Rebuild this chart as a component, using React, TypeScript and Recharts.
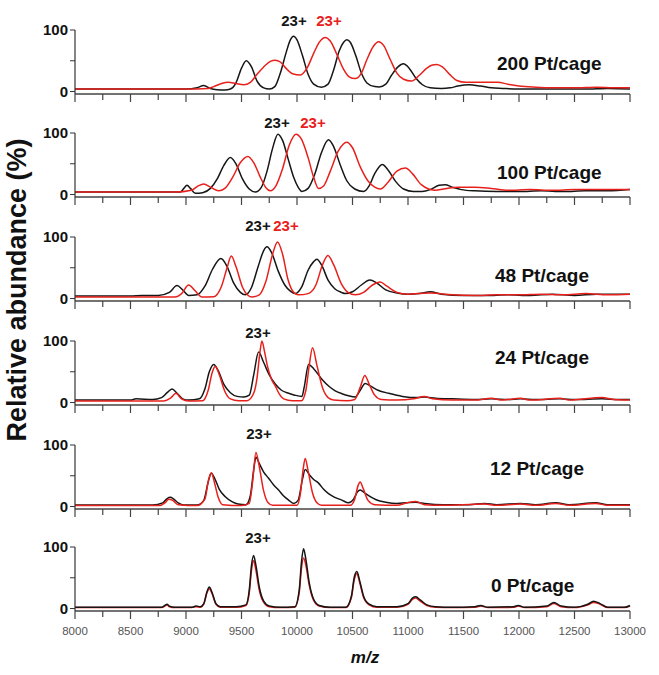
import React from 'react';
import { LineChart, Line, XAxis, YAxis } from 'recharts';

type Pt = [number, number];

// m/z axis ticks (minor every 250, labelled every 500)
const mzTicks = [8000, 8250, 8500, 8750, 9000, 9250, 9500, 9750, 10000, 10250, 10500, 10750, 11000, 11250, 11500, 11750, 12000, 12250, 12500, 12750, 13000];
const yTicks = [0, 50, 100];
const panelLabels = ['200 Pt/cage', '100 Pt/cage', '48 Pt/cage', '24 Pt/cage', '12 Pt/cage', '0 Pt/cage'];

// spectra: [m/z, relative abundance]
const black200: Pt[] = [[8000, 4], [8500, 4], [9000, 4], [9100, 6], [9160, 10], [9220, 5], [9280, 3], [9350, 2.5], [9400, 4], [9450, 14], [9500, 38], [9543, 50], [9590, 40], [9640, 17], [9700, 6], [9750, 4], [9800, 8], [9850, 30], [9900, 62], [9940, 84], [9969, 90], [10000, 84], [10050, 58], [10100, 28], [10150, 12], [10220, 7], [10280, 12], [10330, 35], [10380, 66], [10420, 80], [10449, 84], [10480, 80], [10530, 58], [10580, 30], [10630, 14], [10700, 8], [10740, 7.5], [10800, 12], [10850, 26], [10910, 40], [10958, 45], [11010, 38], [11070, 22], [11130, 11], [11200, 6], [11300, 5], [11380, 6], [11450, 9], [11550, 11], [11650, 9], [11750, 6], [11850, 5], [12000, 4], [12300, 4], [12600, 4], [12800, 5], [13000, 4]];
const red200: Pt[] = [[8000, 4], [8500, 4], [9000, 4], [9200, 5], [9250, 8], [9320, 13], [9380, 15], [9450, 13], [9520, 11], [9580, 15], [9640, 28], [9700, 40], [9760, 49], [9804, 51], [9850, 48], [9900, 38], [9960, 29], [10030, 27], [10090, 38], [10150, 62], [10200, 80], [10254, 88], [10300, 82], [10360, 60], [10420, 36], [10470, 24], [10524, 21], [10580, 30], [10630, 52], [10690, 74], [10734, 81], [10780, 75], [10840, 52], [10900, 30], [10960, 20], [11033, 17], [11100, 26], [11170, 38], [11220, 43], [11259, 44], [11310, 40], [11380, 27], [11440, 18], [11520, 15], [11600, 15], [11700, 15], [11806, 15], [11900, 12], [12000, 9], [12150, 7], [12300, 6], [12500, 6], [12700, 7], [12850, 6], [13000, 6]];

const black100: Pt[] = [[8000, 4], [8500, 4], [8950, 4], [8980, 10], [9009, 15], [9040, 10], [9084, 2], [9150, 3], [9220, 10], [9280, 25], [9340, 47], [9399, 60], [9450, 50], [9510, 25], [9570, 9], [9624, 4], [9680, 12], [9730, 38], [9780, 75], [9828, 98], [9870, 88], [9920, 58], [9970, 28], [10010, 12], [10044, 5], [10100, 10], [10160, 33], [10220, 68], [10284, 89], [10330, 78], [10390, 48], [10450, 22], [10520, 9], [10600, 5], [10650, 14], [10700, 34], [10769, 49], [10820, 40], [10890, 21], [10960, 9], [11050, 5], [11127, 5], [11200, 8], [11280, 15], [11335, 16], [11400, 12], [11480, 8], [11600, 6], [11800, 5], [12000, 5], [12200, 6], [12400, 5], [12600, 6], [12800, 6], [13000, 8]];
const red100: Pt[] = [[8000, 4], [8900, 4], [9050, 7], [9110, 14], [9159, 17], [9220, 12], [9294, 6], [9350, 10], [9420, 28], [9490, 52], [9558, 62], [9610, 52], [9670, 28], [9720, 11], [9759, 6], [9810, 14], [9870, 42], [9930, 80], [9990, 98], [10040, 90], [10100, 60], [10150, 28], [10194, 10], [10240, 14], [10300, 38], [10370, 70], [10449, 85], [10500, 76], [10570, 45], [10640, 22], [10700, 12], [10750, 9], [10820, 20], [10900, 38], [10977, 43], [11040, 34], [11120, 16], [11240, 7], [11350, 10], [11450, 12], [11600, 12], [11750, 10], [11900, 7], [12100, 8], [12300, 7], [12500, 8], [12700, 8], [13000, 8]];

const black48: Pt[] = [[8000, 4], [8500, 4], [8600, 5], [8750, 5], [8850, 10], [8919, 21], [8970, 14], [9024, 5], [9100, 6], [9170, 20], [9240, 48], [9315, 65], [9370, 52], [9430, 25], [9490, 10], [9534, 6], [9590, 18], [9650, 52], [9700, 78], [9729, 84], [9770, 75], [9830, 45], [9890, 22], [9940, 12], [9984, 8], [10040, 18], [10100, 46], [10150, 60], [10179, 64], [10220, 55], [10280, 30], [10340, 16], [10400, 10], [10434, 8], [10500, 11], [10580, 22], [10656, 30], [10720, 25], [10800, 14], [10900, 9], [11000, 7], [11100, 8], [11203, 11], [11300, 7], [11500, 5], [11700, 5], [11900, 6], [12100, 5], [12300, 7], [12500, 5], [12700, 7], [12900, 7], [13000, 7]];
const red48: Pt[] = [[8000, 2.5], [8900, 2.5], [8960, 8], [9024, 22], [9080, 13], [9144, 2.5], [9250, 3], [9320, 20], [9370, 50], [9408, 69], [9450, 52], [9510, 18], [9560, 5], [9594, 2.5], [9660, 6], [9720, 28], [9780, 72], [9825, 92], [9870, 72], [9920, 30], [9970, 10], [10014, 6], [10100, 8], [10170, 22], [10230, 55], [10278, 70], [10330, 55], [10400, 24], [10460, 10], [10524, 6], [10600, 10], [10680, 22], [10750, 27], [10810, 20], [10900, 10], [11000, 7], [11100, 8], [11200, 9], [11400, 6], [11600, 5], [11800, 6], [12000, 6], [12200, 7], [12400, 6], [12600, 8], [12800, 6], [13000, 7]];

const black24: Pt[] = [[8000, 4], [8500, 4], [8550, 6], [8700, 5], [8780, 8], [8830, 16], [8874, 22], [8920, 15], [8970, 6], [9024, 4], [9120, 6], [9170, 22], [9210, 50], [9249, 62], [9290, 52], [9340, 30], [9400, 16], [9460, 10], [9520, 9], [9570, 12], [9610, 45], [9654, 82], [9700, 65], [9750, 45], [9804, 30], [9860, 20], [9924, 15], [9980, 12], [10044, 10], [10065, 25], [10104, 62], [10150, 55], [10224, 38], [10290, 26], [10344, 19], [10410, 14], [10464, 11], [10524, 9], [10570, 20], [10614, 31], [10660, 27], [10730, 20], [10826, 15], [10950, 10], [11090, 8], [11146, 9], [11250, 7], [11400, 6], [11600, 5], [11750, 6], [11900, 5], [12012, 6], [12150, 5], [12371, 6], [12500, 5], [12748, 6], [12900, 5], [13000, 5]];
const red24: Pt[] = [[8000, 2.5], [8800, 2.5], [8860, 7], [8910, 15], [8960, 6], [9024, 2.5], [9150, 3], [9200, 20], [9235, 48], [9264, 59], [9300, 45], [9350, 18], [9400, 6], [9474, 3], [9550, 3], [9610, 15], [9640, 40], [9665, 80], [9684, 100], [9705, 85], [9730, 62], [9770, 38], [9804, 27], [9840, 14], [9880, 6], [9960, 3], [10040, 3], [10080, 20], [10110, 60], [10140, 89], [10180, 60], [10230, 24], [10280, 8], [10330, 4], [10450, 3], [10520, 5], [10570, 25], [10611, 44], [10650, 30], [10700, 12], [10760, 5], [10900, 4], [11050, 6], [11146, 10], [11220, 6], [11400, 4], [11600, 4], [11750, 7], [11850, 4], [12012, 7], [12100, 4], [12371, 7], [12450, 4], [12748, 8], [12850, 5], [13000, 4]];

const black12: Pt[] = [[8000, 2.5], [8700, 2.5], [8790, 6], [8830, 13], [8859, 15], [8890, 12], [8930, 6], [8979, 2.5], [9100, 2.5], [9160, 10], [9200, 40], [9228, 54], [9260, 45], [9300, 28], [9354, 16], [9414, 8], [9470, 4], [9540, 3], [9580, 18], [9610, 60], [9630, 80], [9660, 70], [9700, 56], [9744, 46], [9790, 35], [9834, 27], [9880, 17], [9924, 10.5], [9970, 5], [10010, 10], [10050, 45], [10074, 60], [10110, 52], [10150, 44], [10194, 38], [10240, 28], [10284, 21], [10340, 15], [10404, 10.5], [10464, 6], [10510, 12], [10545, 24], [10569, 27], [10610, 22], [10660, 16], [10713, 11], [10800, 7], [10901, 5], [10980, 6], [11071, 7], [11150, 5], [11316, 3], [11429, 3], [11550, 3], [11690, 5], [11800, 3], [12013, 5], [12150, 3], [12333, 6], [12450, 3], [12691, 6], [12800, 3], [13000, 3]];
const red12: Pt[] = [[8000, 1.5], [8760, 1.5], [8810, 6], [8845, 12], [8880, 10], [8930, 3], [9100, 1.5], [9170, 12], [9205, 45], [9228, 55], [9255, 40], [9290, 15], [9330, 3], [9500, 1.5], [9570, 5], [9600, 40], [9630, 88], [9660, 65], [9700, 25], [9740, 6], [9780, 2], [10000, 2], [10030, 20], [10055, 60], [10074, 78], [10100, 58], [10140, 22], [10180, 6], [10220, 2], [10480, 2], [10520, 12], [10550, 34], [10569, 40], [10595, 30], [10640, 10], [10700, 3], [10900, 2], [10990, 6], [11071, 8], [11150, 3], [11300, 2], [11690, 4], [11800, 2], [12013, 4], [12150, 2], [12333, 5], [12450, 2], [12691, 5], [12800, 2], [13000, 2]];

const black0: Pt[] = [[8000, 2], [8780, 2], [8810, 5], [8829, 7], [8850, 4], [8900, 2], [9050, 2], [9090, 4], [9130, 3], [9160, 8], [9190, 28], [9210, 35], [9235, 26], [9270, 8], [9310, 3], [9450, 3], [9540, 6], [9570, 30], [9590, 70], [9609, 86], [9630, 70], [9660, 35], [9700, 12], [9750, 4], [9850, 2], [9980, 3], [10020, 30], [10040, 75], [10059, 97], [10080, 80], [10110, 42], [10150, 15], [10200, 5], [10300, 2], [10440, 2], [10490, 20], [10515, 50], [10539, 60], [10565, 45], [10600, 20], [10650, 7], [10720, 3], [10900, 3], [11000, 8], [11040, 17], [11071, 19], [11110, 14], [11170, 6], [11250, 3], [11400, 2], [11600, 3], [11655, 5], [11720, 2], [11950, 3], [11994, 5], [12050, 2], [12250, 4], [12314, 10], [12380, 4], [12500, 2], [12620, 7], [12672, 12], [12730, 8], [12800, 2], [12950, 2], [13000, 5]];
const red0: Pt[] = [[8000, 1.5], [8780, 1.5], [8810, 4], [8829, 6], [8850, 3], [8900, 1.5], [9050, 1.5], [9090, 3], [9130, 2], [9160, 7], [9190, 26], [9210, 32], [9235, 24], [9270, 7], [9310, 2], [9450, 2], [9540, 5], [9570, 26], [9590, 62], [9609, 78], [9630, 62], [9660, 30], [9700, 10], [9750, 3], [9850, 1.5], [9980, 2], [10020, 26], [10040, 65], [10059, 82], [10080, 70], [10110, 38], [10150, 13], [10200, 4], [10300, 1.5], [10440, 1.5], [10490, 18], [10515, 46], [10539, 57], [10565, 42], [10600, 18], [10650, 6], [10720, 2], [10900, 2], [11000, 7], [11040, 15], [11071, 17], [11110, 12], [11170, 5], [11250, 2], [11400, 1.5], [11600, 2], [11655, 4], [11720, 1.5], [11950, 2], [11994, 4], [12050, 1.5], [12250, 3], [12314, 8], [12380, 3], [12500, 1.5], [12620, 6], [12672, 10], [12730, 7], [12800, 1.5], [12950, 1.5], [13000, 4]];

const blackSpectra = [black200, black100, black48, black24, black12, black0];
const redSpectra = [red200, red100, red48, red24, red12, red0];

const BLACK = '#161616';
const RED = '#e8201c';
const FONT = '"Liberation Sans", Arial, Helvetica, sans-serif';

// layout (px)
const AXIS_Y = [94, 197, 301, 405, 509, 611];
const PLOT_H = 64;
const PAD_TOP = 14;
const LABEL_POS = [[497, 63], [497, 172], [495, 275], [495, 357], [490, 468], [491, 585]];
// [x, y, colour] for the "23+" charge-state tags
const CHARGE_TAGS: [number, number, string][][] = [
    [[294, 20, BLACK], [329, 20, RED]],
    [[277, 122, BLACK], [313, 122, RED]],
    [[258, 225, BLACK], [286, 225, RED]],
    [[258, 332, BLACK]],
    [[259, 433, BLACK]],
    [[258, 537, BLACK]],
];

const toPts = (arr: Pt[]) => arr.map(([mz, v]) => ({ mz, v }));

const MzTick = (props: any) => {
    const { x, y, payload, showText } = props;
    const major = payload.value % 500 === 0;
    return (
        <g>
            <line x1={x} x2={x} y1={y} y2={y + (major ? 8 : 6)} stroke="#444" strokeWidth={1.2} />
            {showText && major ? (
                <text x={x} y={y + 24} textAnchor="middle" fontSize={11.5} fill="#555" fontFamily={FONT}>
                    {payload.value}
                </text>
            ) : null}
        </g>
    );
};

const Panel = ({ idx }: { idx: number }) => {
    const last = idx === AXIS_Y.length - 1;
    const bottomH = last ? 30 : 10;
    const top = AXIS_Y[idx] - PLOT_H - PAD_TOP;
    const black = (
        <Line key="k" data={toPts(blackSpectra[idx])} dataKey="v" type="monotone" stroke={BLACK} strokeWidth={1.5} dot={false} isAnimationActive={false} />
    );
    const red = (
        <Line key="r" data={toPts(redSpectra[idx])} dataKey="v" type="monotone" stroke={RED} strokeWidth={1.5} dot={false} isAnimationActive={false} />
    );
    return (
        <div style={{ position: 'absolute', left: 0, top }}>
            <LineChart width={659} height={PAD_TOP + PLOT_H + bottomH} margin={{ top: PAD_TOP, right: 29, left: 0, bottom: 0 }}>
                <XAxis
                    type="number"
                    dataKey="mz"
                    domain={[8000, 13000]}
                    ticks={mzTicks}
                    interval={0}
                    height={bottomH}
                    tickLine={false}
                    tickSize={0}
                    tickMargin={0}
                    axisLine={{ stroke: '#444', strokeWidth: 1.5 }}
                    tick={<MzTick showText={last} />}
                />
                <YAxis
                    type="number"
                    domain={[-4, 100]}
                    ticks={yTicks}
                    interval={0}
                    width={75}
                    tickSize={5}
                    tickMargin={2}
                    axisLine={{ stroke: '#333', strokeWidth: 1.2 }}
                    tickLine={{ stroke: '#333' }}
                    tickFormatter={(v: number) => (v === 50 ? '' : String(v))}
                    tick={{ fontSize: 15, fontWeight: 'bold', fill: '#111', fontFamily: FONT }}
                />
                {last ? [red, black] : [black, red]}
            </LineChart>
        </div>
    );
};

export default function App() {
    return (
        <div style={{ position: 'absolute', left: 0, top: 0, width: 659, height: 675, background: '#fff', fontFamily: FONT }}>
            {AXIS_Y.map((_, i) => (
                <Panel key={i} idx={i} />
            ))}
            <svg width={659} height={675} style={{ position: 'absolute', left: 0, top: 0, pointerEvents: 'none' }}>
                <text
                    x={17}
                    y={290}
                    transform="rotate(-90 17 290)"
                    textAnchor="middle"
                    dominantBaseline="central"
                    fontSize={27}
                    fontWeight="bold"
                    fill="#111"
                    fontFamily={FONT}
                >
                    Relative abundance (%)
                </text>
                <text x={365} y={657} textAnchor="middle" dominantBaseline="central" fontSize={17} fontWeight="bold" fontStyle="italic" fill="#111" fontFamily={FONT}>
                    m/z
                </text>
                {panelLabels.map((t, i) => (
                    <text key={t} x={LABEL_POS[i][0]} y={LABEL_POS[i][1]} dominantBaseline="central" fontSize={19} fontWeight="bold" fill="#111" fontFamily={FONT}>
                        {t}
                    </text>
                ))}
                {CHARGE_TAGS.map((tags, i) =>
                    tags.map(([x, y, c], j) => (
                        <text key={`${i}-${j}`} x={x} y={y} textAnchor="middle" dominantBaseline="central" fontSize={15} fontWeight="bold" fill={c} fontFamily={FONT}>
                            23+
                        </text>
                    ))
                )}
            </svg>
        </div>
    );
}
